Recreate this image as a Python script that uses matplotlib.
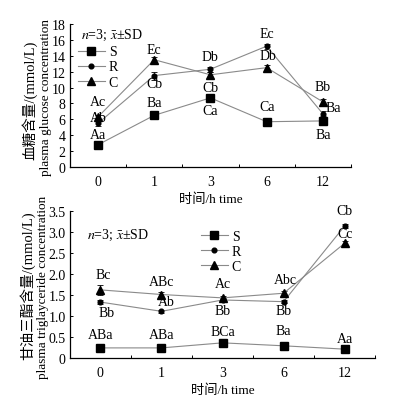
import matplotlib
matplotlib.use("Agg")
import matplotlib.pyplot as plt
from matplotlib.ticker import FixedLocator, FuncFormatter

plt.rcParams["font.family"] = ["Liberation Serif", "Noto Sans CJK SC"]
plt.rcParams["mathtext.fontset"] = "stix"

# ── data ───────────────────────────────────────────────────────────────────
times = ["0", "1", "3", "6", "12"]

glu_S = [2.8, 6.5, 8.7, 5.7, 5.8]
glu_R = [5.5, 11.5, 12.3, 15.2, 6.7]
glu_C = [6.3, 13.5, 11.6, 12.5, 8.2]
glu_S_sd = [0.2, 0.3, 0.3, 0.2, 0.2]
glu_R_sd = [0.3, 0.5, 0.3, 0.3, 0.3]
glu_C_sd = [0.3, 0.3, 0.3, 0.3, 0.4]

tg_S = [0.24, 0.24, 0.36, 0.29, 0.21]
tg_R = [1.33, 1.11, 1.38, 1.34, 3.14]
tg_C = [1.62, 1.51, 1.43, 1.54, 2.73]
tg_S_sd = [0.02, 0.02, 0.03, 0.02, 0.02]
tg_R_sd = [0.04, 0.03, 0.04, 0.04, 0.05]
tg_C_sd = [0.12, 0.05, 0.05, 0.05, 0.06]

# significance letters: (group, time index, text, dx px, dy px)
glu_marks = [
    ("S", 0, "Aa", 0, 10), ("R", 0, "Ab", 0, 6), ("C", 0, "Ac", 0, 15),
    ("C", 1, "Ec", 0, 10), ("R", 1, "Cb", 0, -8), ("S", 1, "Ba", 0, 13),
    ("R", 2, "Db", 0, 13), ("C", 2, "Cb", 0, -13), ("S", 2, "Ca", 0, -13),
    ("R", 3, "Ec", 0, 13), ("R", 3, "Db", 1, -9), ("S", 3, "Ca", 0, 15),
    ("C", 4, "Bb", 0, 15), ("R", 4, "Ba", 10, 6), ("S", 4, "Ba", 0, -14),
]
tg_marks = [
    ("C", 0, "Bc", 3, 15), ("R", 0, "Bb", 6, -10), ("S", 0, "ABa", 0, 13),
    ("C", 1, "ABc", 0, 13), ("R", 1, "Ab", 5, 10), ("S", 1, "ABa", 0, 13),
    ("C", 2, "Ac", 0, 14), ("R", 2, "Bb", 0, -11), ("S", 2, "BCa", 0, 11),
    ("C", 3, "Abc", 2, 14), ("R", 3, "Bb", 0, -9), ("S", 3, "Ba", 0, 15),
    ("R", 4, "Cb", 0, 15), ("C", 4, "Cc", 0, 10), ("S", 4, "Aa", 0, 11),
]

LINE = "#8a8a8a"
STYLE = {"S": dict(marker="s", ms=5.6),
         "R": dict(marker="o", ms=3.4),
         "C": dict(marker="^", ms=5.8)}
PX = 0.72  # px -> pt at dpi 100

fig = plt.figure(figsize=(3.97, 4.02), dpi=100)
fig.patch.set_facecolor("white")


def panel(rect, S, R, C, sds, ymax, ystep, marks, fmt, leg_anchor, note_xy):
    ax = fig.add_axes(rect)
    x = list(range(len(times)))
    series = {"S": S, "R": R, "C": C}
    for (name, vals), sd in zip(series.items(), sds):
        ax.errorbar(x, vals, yerr=sd, fmt="none", ecolor="black",
                    elinewidth=0.6, capsize=2, capthick=0.6, zorder=2)
        ax.plot(x, vals, color=LINE, lw=0.8, mfc="black", mec="black",
                label=name, zorder=3, **STYLE[name])
    ax.set_xlim(-0.5, len(times) - 0.5)
    ax.set_ylim(0, ymax)
    ax.set_xticks(x)
    ax.set_xticklabels(times)
    ax.xaxis.set_minor_locator(FixedLocator([i + 0.5 for i in x]))
    ax.tick_params(axis="x", which="major", length=0, pad=6, labelsize=10)
    ax.tick_params(axis="x", which="minor", direction="in", length=2.5, width=0.7)
    ax.set_yticks([i * ystep for i in range(int(round(ymax / ystep)) + 1)])
    ax.yaxis.set_major_formatter(FuncFormatter(fmt))
    ax.tick_params(axis="y", direction="in", length=2.5, width=0.7,
                   labelsize=10, pad=3)
    for s in ("top", "right"):
        ax.spines[s].set_visible(False)
    for s in ("left", "bottom"):
        ax.spines[s].set_linewidth(0.9)
    ax.set_xlabel("时间/h time", fontsize=9.5, labelpad=3)

    for name, i, txt, dx, dy in marks:
        ax.annotate(txt, (i, series[name][i]), xytext=(dx * PX, dy * PX),
                    textcoords="offset points", ha="center", va="center",
                    fontsize=10, zorder=4)

    ax.legend(loc="upper left", bbox_to_anchor=leg_anchor, frameon=False,
              fontsize=10, handlelength=1.9, handletextpad=0.3,
              labelspacing=0.15, borderpad=0, borderaxespad=0)
    ax.text(note_xy[0], note_xy[1], r"$n$=3; $\bar{x}$±SD", transform=ax.transAxes,
            ha="left", va="center", fontsize=10)
    return ax


panel([0.176, 0.582, 0.708, 0.356], glu_S, glu_R, glu_C,
      [glu_S_sd, glu_R_sd, glu_C_sd], 18, 2, glu_marks,
      lambda v, p: f"{v:.0f}", (0.03, 0.85), (0.04, 0.925))

panel([0.176, 0.107, 0.769, 0.366], tg_S, tg_R, tg_C,
      [tg_S_sd, tg_R_sd, tg_C_sd], 3.5, 0.5, tg_marks,
      lambda v, p: "0" if v == 0 else f"{v:.1f}", (0.43, 0.87), (0.057, 0.84))

# two-line y labels
fig.text(30 / 397, 1 - 100 / 402, "血糖含量/(mmol/L)", rotation=90,
         ha="center", va="center", fontsize=10.5)
fig.text(46 / 397, 1 - 97 / 402, "plasma glucose concentration", rotation=90,
         ha="center", va="center", fontsize=9.5)
fig.text(27 / 397, 1 - 286 / 402, "甘油三酯含量/(mmol/L)", rotation=90,
         ha="center", va="center", fontsize=10.5)
fig.text(43 / 397, 1 - 287 / 402, "plasma triglayceride concentration", rotation=90,
         ha="center", va="center", fontsize=9.5)

fig.savefig("out.png", dpi=100, facecolor="white")
